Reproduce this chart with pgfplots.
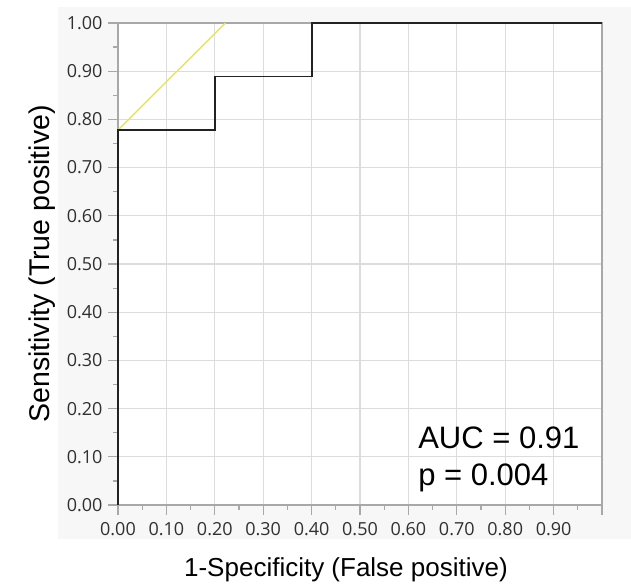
\documentclass[border=0pt]{standalone}
\usepackage{fontspec}
\setmainfont{Liberation Sans}
\newfontfamily\tickfont{Open Sans}
\usepackage{pgfplots}
\pgfplotsset{compat=1.18}
\definecolor{panel}{HTML}{F7F7F7}
\definecolor{gridc}{HTML}{DCDCDC}
\definecolor{axisc}{HTML}{A8A8A8}
\definecolor{tickc}{HTML}{303030}
\definecolor{roc}{HTML}{222222}
\definecolor{tangent}{HTML}{E2E272}
\begin{document}
\begin{tikzpicture}
\useasboundingbox (-118pt,-82pt) rectangle (513pt,505pt);
\fill[panel] (-60pt,-34pt) rectangle (513pt,498pt);
\begin{axis}[
    at={(0,0)}, anchor=south west,
    scale only axis,
    width=484pt, height=482pt,
    xmin=0, xmax=1, ymin=0, ymax=1,
    axis background/.style={fill=white},
    axis line style={axisc, line width=1.2pt},
    grid=major,
    major grid style={gridc, line width=1.2pt},
    xtick={0,0.1,0.2,0.3,0.4,0.5,0.6,0.7,0.8,0.9,1},
    xticklabels={0.00,0.10,0.20,0.30,0.40,0.50,0.60,0.70,0.80,0.90,},
    ytick={0,0.1,0.2,0.3,0.4,0.5,0.6,0.7,0.8,0.9,1},
    yticklabels={0.00,0.10,0.20,0.30,0.40,0.50,0.60,0.70,0.80,0.90,1.00},
    minor tick num=1,
    tick align=outside,
    xtick pos=bottom, ytick pos=left,
    major tick length=10pt, minor tick length=5pt,
    tick style={axisc, line width=1.2pt},
    minor tick style={axisc, line width=1.2pt},
    ticklabel style={font=\tickfont\fontsize{18}{21}\selectfont, text=tickc},
    yticklabel style={xshift=-2pt},
    xticklabel style={yshift=-4pt},
    xlabel={1-Specificity (False positive)},
    ylabel={Sensitivity (True positive)},
    x label style={at={(axis description cs:0.471,-0.149)}, anchor=base, font=\fontsize{26}{30}\selectfont},
    y label style={at={(axis description cs:-0.157,0.5)}, anchor=center, font=\fontsize{28.5}{32}\selectfont},
    clip=false,
]
\addplot[tangent, line width=1.4pt] coordinates {(0,0.778) (0.222,1.0)};
\addplot[roc, line width=1.8pt] coordinates {
    (0,0) (0,0.778) (0.2,0.778) (0.2,0.889) (0.4,0.889) (0.4,1) (1,1)
};
\node[anchor=base west, inner sep=0pt, font=\fontsize{31}{36}\selectfont] at (axis cs:0.62,0.117) {AUC = 0.91};
\node[anchor=base west, inner sep=0pt, font=\fontsize{31}{36}\selectfont] at (axis cs:0.62,0.04) {p = 0.004};
\end{axis}
\end{tikzpicture}
\end{document}
